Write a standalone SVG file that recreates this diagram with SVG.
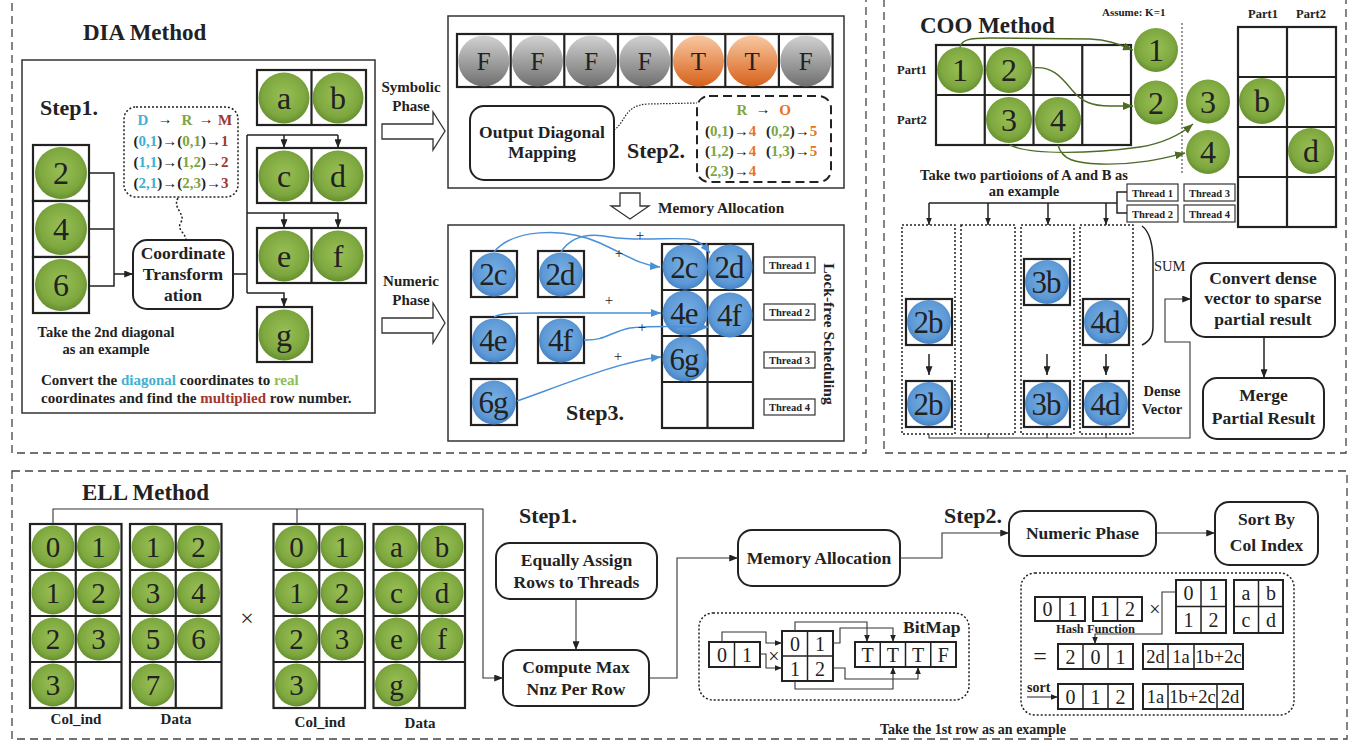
<svg xmlns="http://www.w3.org/2000/svg" width="1367" height="742" viewBox="0 0 1367 742" font-family="'Liberation Serif', 'Times New Roman', Times, serif">
<style>
text,tspan{font-family:'Liberation Serif','Times New Roman',Times,serif}
text{fill:#222}
.b{font-weight:bold}
.c{text-anchor:middle}
.m{dominant-baseline:central}
.panel{fill:none;stroke:#444;stroke-width:1.3;stroke-dasharray:8 5}
.frame{fill:#fff;stroke:#333;stroke-width:1.5}
.cell{fill:#fff;stroke:#222;stroke-width:2.2}
.grid{fill:none;stroke:#222;stroke-width:2.2}
.rb{fill:#fff;stroke:#222;stroke-width:2}
.tb{fill:#fff;stroke:#333;stroke-width:1.2}
.dot{fill:none;stroke:#222;stroke-width:1.5;stroke-dasharray:2 2}
.ln{fill:none;stroke:#222;stroke-width:1.5}
.thin{fill:none;stroke:#333;stroke-width:1.1}
.blue{fill:none;stroke:#4a90d9;stroke-width:1.5}
.olive{fill:none;stroke:#4e6b25;stroke-width:1.4}
.g{fill:url(#gGreen)}
.bl{fill:url(#gBlue)}
.big{font-size:32px}
.mid{font-size:29px}
.lbl{font-size:17.5px;font-weight:bold}
.step{font-size:22px;font-weight:bold}
.title{font-size:23px;font-weight:bold}
.thr{font-size:10.5px;font-weight:bold}
.cy{fill:#3fb0d4}.gr{fill:#7ea540}.rd{fill:#a3362b}.or{fill:#e8731e}
</style>
<defs>
<radialGradient id="gGreen" cx="50%" cy="45%" r="55%">
<stop offset="0" stop-color="#98bf56"/><stop offset="0.75" stop-color="#7ea83f"/><stop offset="1" stop-color="#668f2f"/>
</radialGradient>
<radialGradient id="gBlue" cx="50%" cy="45%" r="55%">
<stop offset="0" stop-color="#78b0e4"/><stop offset="0.75" stop-color="#5d99d6"/><stop offset="1" stop-color="#4683c6"/>
</radialGradient>
<linearGradient id="gGray" x1="0" y1="0" x2="0" y2="1">
<stop offset="0" stop-color="#d2d2d2"/><stop offset="1" stop-color="#6f6f6f"/>
</linearGradient>
<linearGradient id="gOrange" x1="0" y1="0" x2="0" y2="1">
<stop offset="0" stop-color="#f9c9a2"/><stop offset="1" stop-color="#d6611b"/>
</linearGradient>
<marker id="ah" viewBox="0 0 10 8" refX="10" refY="4" markerWidth="9" markerHeight="7" markerUnits="userSpaceOnUse" orient="auto"><path d="M0,0 L10,4 L0,8 z" fill="#222"/></marker>
<marker id="ahs" viewBox="0 0 10 8" refX="10" refY="4" markerWidth="7" markerHeight="6" markerUnits="userSpaceOnUse" orient="auto"><path d="M0,0 L10,4 L0,8 z" fill="#222"/></marker>
<marker id="ahb" viewBox="0 0 10 8" refX="10" refY="4" markerWidth="10" markerHeight="8" markerUnits="userSpaceOnUse" orient="auto"><path d="M0,0 L10,4 L0,8 z" fill="#4a90d9"/></marker>
<marker id="ahg" viewBox="0 0 10 8" refX="10" refY="4" markerWidth="10" markerHeight="8" markerUnits="userSpaceOnUse" orient="auto"><path d="M0,0 L10,4 L0,8 z" fill="#4e6b25"/></marker>
</defs>
<rect width="1367" height="742" fill="#fff"/>

<!-- section frames -->
<g id="panels">
<rect class="panel" x="12" y="-10" width="854" height="463"/>
<rect class="panel" x="884" y="-10" width="462" height="463"/>
<rect class="panel" x="12" y="471" width="1335" height="268"/>
</g>

<!-- ===== DIA ===== -->
<g id="dia">
<text class="title" x="83" y="40">DIA Method</text>
<rect class="frame" x="22" y="60" width="353" height="353"/>
<text class="step" x="40" y="115">Step1.</text>

<g id="dia-diag">
<rect class="cell" x="33" y="145" width="56" height="56"/>
<rect class="cell" x="33" y="201" width="56" height="56"/>
<rect class="cell" x="33" y="257" width="56" height="56"/>
<circle class="g" cx="61" cy="173" r="26"/><text class="c m big" x="61" y="173">2</text>
<circle class="g" cx="61" cy="229" r="26"/><text class="c m big" x="61" y="229">4</text>
<circle class="g" cx="61" cy="285" r="26"/><text class="c m big" x="61" y="285">6</text>
</g>

<g id="dia-map">
<rect class="dot" x="124" y="107" width="114" height="90" rx="12"/>
<g class="b" font-size="15">
<text class="c cy" x="143" y="125">D</text><text class="c" x="165" y="124">→</text>
<text class="c gr" x="187" y="125">R</text><text class="c" x="206" y="124">→</text>
<text class="c rd" x="225" y="125">M</text>
<text class="c" x="181" y="146">(<tspan class="cy">0,1</tspan>)→(<tspan class="gr">0,1</tspan>)→<tspan class="rd">1</tspan></text>
<text class="c" x="181" y="167">(<tspan class="cy">1,1</tspan>)→(<tspan class="gr">1,2</tspan>)→<tspan class="rd">2</tspan></text>
<text class="c" x="181" y="188">(<tspan class="cy">2,1</tspan>)→(<tspan class="gr">2,3</tspan>)→<tspan class="rd">3</tspan></text>
</g>
<path class="dot" d="M178,198 C172,208 186,214 181,222 C176,230 186,233 186,240" stroke-width="1.2"/>
</g>

<g id="dia-transform">
<rect class="rb" x="133" y="240" width="100" height="69" rx="14"/>
<text class="c lbl" x="183" y="259">Coordinate</text>
<text class="c lbl" x="183" y="280">Transform</text>
<text class="c lbl" x="183" y="301">ation</text>
</g>

<g id="dia-rows">
<rect class="cell" x="257" y="70" width="109" height="55"/><line class="grid" x1="311.5" y1="70" x2="311.5" y2="125"/>
<circle class="g" cx="284" cy="98" r="25.5"/><text class="c m big" x="284" y="98">a</text>
<circle class="g" cx="338" cy="98" r="25.5"/><text class="c m big" x="338" y="98">b</text>
<rect class="cell" x="257" y="148" width="109" height="55"/><line class="grid" x1="311.5" y1="148" x2="311.5" y2="203"/>
<circle class="g" cx="284" cy="176" r="25.5"/><text class="c m big" x="284" y="176">c</text>
<circle class="g" cx="338" cy="176" r="25.5"/><text class="c m big" x="338" y="176">d</text>
<rect class="cell" x="257" y="228" width="109" height="55"/><line class="grid" x1="311.5" y1="228" x2="311.5" y2="283"/>
<circle class="g" cx="284" cy="256" r="25.5"/><text class="c m big" x="284" y="256">e</text>
<circle class="g" cx="338" cy="256" r="25.5"/><text class="c m big" x="338" y="256">f</text>
<rect class="cell" x="257" y="307" width="55" height="55"/>
<circle class="g" cx="284" cy="335" r="25.5"/><text class="c m big" x="284" y="335">g</text>
</g>

<g id="dia-notes" class="b">
<text class="c" font-size="14.5" x="106" y="337">Take the 2nd diagonal</text>
<text class="c" font-size="14.5" x="106" y="354">as an example</text>
<text font-size="15" x="41" y="385">Convert the <tspan fill="#41b0d2">diagonal</tspan> coordinates to <tspan fill="#8fbd55">real</tspan></text>
<text font-size="15" x="41" y="403">coordinates and find the <tspan fill="#a3362b">multiplied</tspan> row number.</text>
</g>

<g id="dia-symbolic">
<text class="c b" font-size="15" x="411" y="92">Symbolic</text>
<text class="c b" font-size="15" x="411" y="111">Phase</text>
<polygon points="382,124 433,124 433,112 445,131 433,150 433,139 382,139" fill="#fff" stroke="#333" stroke-width="1.3"/>
</g>

<g id="dia-step2">
<rect class="frame" x="448" y="16" width="396" height="172"/>
<rect class="cell" x="457" y="34" width="375.6" height="53"/>
<g class="grid">
<line x1="510.7" y1="34" x2="510.7" y2="87"/><line x1="564.3" y1="34" x2="564.3" y2="87"/>
<line x1="618" y1="34" x2="618" y2="87"/><line x1="671.6" y1="34" x2="671.6" y2="87"/>
<line x1="725.3" y1="34" x2="725.3" y2="87"/><line x1="778.9" y1="34" x2="778.9" y2="87"/>
</g>
<g font-size="25">
<circle cx="483.8" cy="61" r="25.5" fill="url(#gGray)"/><text class="c m" x="483.8" y="61">F</text>
<circle cx="537.5" cy="61" r="25.5" fill="url(#gGray)"/><text class="c m" x="537.5" y="61">F</text>
<circle cx="591.2" cy="61" r="25.5" fill="url(#gGray)"/><text class="c m" x="591.2" y="61">F</text>
<circle cx="644.8" cy="61" r="25.5" fill="url(#gGray)"/><text class="c m" x="644.8" y="61">F</text>
<circle cx="698.5" cy="61" r="25.5" fill="url(#gOrange)"/><text class="c m" x="698.5" y="61">T</text>
<circle cx="752.2" cy="61" r="25.5" fill="url(#gOrange)"/><text class="c m" x="752.2" y="61">T</text>
<circle cx="805.8" cy="61" r="25.5" fill="url(#gGray)"/><text class="c m" x="805.8" y="61">F</text>
</g>
<rect class="rb" x="470" y="106" width="144" height="74" rx="14"/>
<text class="c lbl" x="542" y="138">Output Diagonal</text>
<text class="c lbl" x="542" y="158">Mapping</text>
<text class="step" x="627" y="158">Step2.</text>
<path d="M614,130 C626,122 624,105 648,104 L697,103" fill="none" stroke="#222" stroke-width="1.2" stroke-dasharray="1.5 1.5"/>
<rect x="697" y="96" width="134" height="86" rx="12" fill="none" stroke="#222" stroke-width="2" stroke-dasharray="9 5"/>
<g class="b" font-size="15">
<text class="c gr" x="742" y="115">R</text><text class="c" x="763" y="114">→</text><text class="c or" x="785" y="115">O</text>
<text x="705" y="136">(<tspan class="gr">0,1</tspan>)→<tspan class="or">4</tspan></text>
<text x="766" y="136">(<tspan class="gr">0,2</tspan>)→<tspan class="or">5</tspan></text>
<text x="705" y="156">(<tspan class="gr">1,2</tspan>)→<tspan class="or">4</tspan></text>
<text x="766" y="156">(<tspan class="gr">1,3</tspan>)→<tspan class="or">5</tspan></text>
<text x="705" y="176">(<tspan class="gr">2,3</tspan>)→<tspan class="or">4</tspan></text>
</g>
</g>

<g id="dia-memory">
<polygon points="620,193 640,193 640,206 649,206 630,219 611,206 620,206" fill="#fff" stroke="#333" stroke-width="1.3"/>
<text class="b" font-size="15.3" x="658" y="213">Memory Allocation</text>
</g>

<g id="dia-numeric">
<text class="c b" font-size="15" x="411" y="286">Numeric</text>
<text class="c b" font-size="15" x="411" y="305">Phase</text>
<polygon points="382,318 433,318 433,303 445,323 433,343 433,333 382,333" fill="#fff" stroke="#333" stroke-width="1.3"/>
</g>

<g id="dia-step3">
<rect class="frame" x="448" y="225" width="396" height="216"/>
<g font-size="31" letter-spacing="-1">
<rect class="cell" x="471" y="251" width="46" height="46"/><circle class="bl" cx="494" cy="274.5" r="22"/><text class="c m" x="493" y="274.5">2c</text>
<rect class="cell" x="538" y="251" width="46" height="46"/><circle class="bl" cx="561" cy="274.5" r="22"/><text class="c m" x="560" y="274.5">2d</text>
<rect class="cell" x="471" y="317" width="46" height="46"/><circle class="bl" cx="494" cy="340.5" r="22"/><text class="c m" x="493" y="340.5">4e</text>
<rect class="cell" x="538" y="317" width="46" height="46"/><circle class="bl" cx="561" cy="340.5" r="22"/><text class="c m" x="560" y="340.5">4f</text>
<rect class="cell" x="471" y="379" width="46" height="46"/><circle class="bl" cx="494" cy="402.5" r="22"/><text class="c m" x="493" y="402.5">6g</text>
</g>
<rect class="cell" x="662" y="244" width="91" height="184"/>
<g class="grid">
<line x1="707.5" y1="244" x2="707.5" y2="428"/>
<line x1="662" y1="290" x2="753" y2="290"/><line x1="662" y1="336" x2="753" y2="336"/><line x1="662" y1="382" x2="753" y2="382"/>
</g>
<g font-size="31" letter-spacing="-1">
<circle class="bl" cx="685" cy="267" r="22.5"/><text class="c m" x="684" y="267">2c</text>
<circle class="bl" cx="730" cy="267" r="22.5"/><text class="c m" x="729" y="267">2d</text>
<circle class="bl" cx="685" cy="313" r="22.5"/><text class="c m" x="684" y="313">4e</text>
<circle class="bl" cx="730" cy="315" r="22.5"/><text class="c m" x="729" y="315">4f</text>
<circle class="bl" cx="685" cy="359" r="22.5"/><text class="c m" x="684" y="359">6g</text>
</g>
<g class="thr">
<rect class="tb" x="764" y="257" width="51" height="16"/><text class="c" x="789.5" y="269">Thread 1</text>
<rect class="tb" x="764" y="304" width="51" height="16"/><text class="c" x="789.5" y="316">Thread 2</text>
<rect class="tb" x="764" y="352" width="51" height="16"/><text class="c" x="789.5" y="364">Thread 3</text>
<rect class="tb" x="764" y="399" width="51" height="16"/><text class="c" x="789.5" y="411">Thread 4</text>
</g>
<text class="c m b" font-size="15.5" transform="translate(829,334) rotate(90)">Lock-free Scheduling</text>
<text class="step" x="566" y="420">Step3.</text>
</g>
</g>

<!-- ===== COO ===== -->
<g id="coo">
<text class="title" x="920" y="33">COO Method</text>
<text class="b" font-size="11" x="1102" y="16">Assume: K=1</text>
<line x1="1182" y1="23" x2="1182" y2="175" stroke="#333" stroke-width="1" stroke-dasharray="2 2"/>

<g id="coo-a">
<text class="b" font-size="12.5" x="897" y="74">Part1</text>
<text class="b" font-size="12.5" x="897" y="124">Part2</text>
<rect class="cell" x="936" y="45" width="195" height="100"/>
<g class="grid">
<line x1="984.75" y1="45" x2="984.75" y2="145"/><line x1="1033.5" y1="45" x2="1033.5" y2="145"/><line x1="1082.25" y1="45" x2="1082.25" y2="145"/>
<line x1="936" y1="95" x2="1131" y2="95"/>
</g>
<circle class="g" cx="960" cy="70" r="23"/><text class="c m big" x="960" y="70">1</text>
<circle class="g" cx="1009" cy="70" r="23"/><text class="c m big" x="1009" y="70">2</text>
<circle class="g" cx="1009" cy="120" r="23"/><text class="c m big" x="1009" y="120">3</text>
<circle class="g" cx="1058" cy="120" r="23"/><text class="c m big" x="1058" y="120">4</text>
</g>

<g id="coo-parts">
<circle class="g" cx="1156" cy="50" r="22"/><text class="c m big" x="1156" y="50">1</text>
<circle class="g" cx="1156" cy="102.5" r="22"/><text class="c m big" x="1156" y="102.5">2</text>
<circle class="g" cx="1208" cy="101.5" r="22"/><text class="c m big" x="1208" y="101.5">3</text>
<circle class="g" cx="1208" cy="152" r="22"/><text class="c m big" x="1208" y="152">4</text>
</g>

<g id="coo-b">
<text class="c b" font-size="12.5" x="1263" y="18">Part1</text>
<text class="c b" font-size="12.5" x="1311" y="18">Part2</text>
<rect class="cell" x="1238" y="27" width="98" height="200"/>
<g class="grid">
<line x1="1287" y1="27" x2="1287" y2="227"/>
<line x1="1238" y1="77" x2="1336" y2="77"/><line x1="1238" y1="127" x2="1336" y2="127"/><line x1="1238" y1="177" x2="1336" y2="177"/>
</g>
<circle class="g" cx="1262" cy="101" r="23"/><text class="c m big" x="1262" y="101">b</text>
<circle class="g" cx="1311" cy="151" r="23"/><text class="c m big" x="1311" y="151">d</text>
</g>

<g class="b" font-size="14.5">
<text class="c" x="1024" y="180">Take two partioions of A and B as</text>
<text class="c" x="1024" y="196">an example</text>
</g>

<g id="coo-threads" class="thr">
<rect class="tb" x="1127" y="184" width="51" height="17"/><text class="c" x="1152.5" y="196.5">Thread 1</text>
<rect class="tb" x="1184" y="184" width="51" height="17"/><text class="c" x="1209.5" y="196.5">Thread 3</text>
<rect class="tb" x="1127" y="205" width="51" height="17"/><text class="c" x="1152.5" y="217.5">Thread 2</text>
<rect class="tb" x="1184" y="205" width="51" height="17"/><text class="c" x="1209.5" y="217.5">Thread 4</text>
</g>

<g id="coo-columns">
<rect class="dot" x="902" y="225" width="53" height="209" stroke-width="1.1"/>
<rect class="dot" x="961" y="225" width="54" height="209" stroke-width="1.1"/>
<rect class="dot" x="1021" y="225" width="53" height="209" stroke-width="1.1"/>
<rect class="dot" x="1080" y="225" width="53" height="209" stroke-width="1.1"/>
<g font-size="31" letter-spacing="-1">
<rect class="cell" x="906" y="299" width="46" height="46"/><circle class="bl" cx="929" cy="322" r="22"/><text class="c m" x="928" y="322">2b</text>
<rect class="cell" x="906" y="381" width="46" height="46"/><circle class="bl" cx="929" cy="404" r="22"/><text class="c m" x="928" y="404">2b</text>
<rect class="cell" x="1024" y="259" width="46" height="46"/><circle class="bl" cx="1047" cy="282" r="22"/><text class="c m" x="1046" y="282">3b</text>
<rect class="cell" x="1024" y="381" width="46" height="46"/><circle class="bl" cx="1047" cy="404" r="22"/><text class="c m" x="1046" y="404">3b</text>
<rect class="cell" x="1083" y="299" width="46" height="46"/><circle class="bl" cx="1106" cy="322" r="22"/><text class="c m" x="1105" y="322">4d</text>
<rect class="cell" x="1083" y="381" width="46" height="46"/><circle class="bl" cx="1106" cy="404" r="22"/><text class="c m" x="1105" y="404">4d</text>
</g>
<path class="ln" d="M1142,226 C1150,232 1153,244 1153,262 L1153,326 C1153,336 1150,341 1142,345"/>
<text font-size="14.5" x="1154" y="271">SUM</text>
<text class="c b" font-size="14.5" x="1162" y="396">Dense</text>
<text class="c b" font-size="14.5" x="1162" y="414">Vector</text>
</g>

<g id="coo-convert">
<rect class="rb" x="1191" y="263" width="144" height="74" rx="14"/>
<text class="c lbl" x="1263" y="284">Convert dense</text>
<text class="c lbl" x="1263" y="304">vector to sparse</text>
<text class="c lbl" x="1263" y="325">partial result</text>
</g>
<g id="coo-merge">
<rect class="rb" x="1203" y="378" width="121" height="61" rx="14"/>
<text class="c lbl" x="1263.5" y="401">Merge</text>
<text class="c lbl" x="1263.5" y="424">Partial Result</text>
</g>
</g>

<!-- ===== ELL ===== -->
<g id="ell">
<text class="title" x="82" y="500">ELL Method</text>

<g id="ell-a-col">
<rect class="cell" x="30" y="524" width="91.5" height="184"/>
<g class="grid"><line x1="75.75" y1="524" x2="75.75" y2="708"/><line x1="30" y1="570" x2="121.5" y2="570"/><line x1="30" y1="616" x2="121.5" y2="616"/><line x1="30" y1="662" x2="121.5" y2="662"/></g>
<g class="mid">
<circle class="g" cx="53" cy="547" r="21.5"/><text class="c m" x="53" y="547">0</text>
<circle class="g" cx="98.5" cy="547" r="21.5"/><text class="c m" x="98.5" y="547">1</text>
<circle class="g" cx="53" cy="593" r="21.5"/><text class="c m" x="53" y="593">1</text>
<circle class="g" cx="98.5" cy="593" r="21.5"/><text class="c m" x="98.5" y="593">2</text>
<circle class="g" cx="53" cy="639" r="21.5"/><text class="c m" x="53" y="639">2</text>
<circle class="g" cx="98.5" cy="639" r="21.5"/><text class="c m" x="98.5" y="639">3</text>
<circle class="g" cx="53" cy="685" r="21.5"/><text class="c m" x="53" y="685">3</text>
</g>
<text class="c b" font-size="15" x="76" y="724">Col_ind</text>
</g>

<g id="ell-a-data">
<rect class="cell" x="130" y="524" width="91.5" height="184"/>
<g class="grid"><line x1="175.75" y1="524" x2="175.75" y2="708"/><line x1="130" y1="570" x2="221.5" y2="570"/><line x1="130" y1="616" x2="221.5" y2="616"/><line x1="130" y1="662" x2="221.5" y2="662"/></g>
<g class="mid">
<circle class="g" cx="153" cy="547" r="21.5"/><text class="c m" x="153" y="547">1</text>
<circle class="g" cx="198.5" cy="547" r="21.5"/><text class="c m" x="198.5" y="547">2</text>
<circle class="g" cx="153" cy="593" r="21.5"/><text class="c m" x="153" y="593">3</text>
<circle class="g" cx="198.5" cy="593" r="21.5"/><text class="c m" x="198.5" y="593">4</text>
<circle class="g" cx="153" cy="639" r="21.5"/><text class="c m" x="153" y="639">5</text>
<circle class="g" cx="198.5" cy="639" r="21.5"/><text class="c m" x="198.5" y="639">6</text>
<circle class="g" cx="153" cy="685" r="21.5"/><text class="c m" x="153" y="685">7</text>
</g>
<text class="c b" font-size="15" x="176" y="724">Data</text>
</g>

<text class="c m" font-size="24" x="247" y="618">×</text>

<g id="ell-b-col">
<rect class="cell" x="273.5" y="524" width="91.5" height="184"/>
<g class="grid"><line x1="319.25" y1="524" x2="319.25" y2="708"/><line x1="273.5" y1="570" x2="365" y2="570"/><line x1="273.5" y1="616" x2="365" y2="616"/><line x1="273.5" y1="662" x2="365" y2="662"/></g>
<g class="mid">
<circle class="g" cx="296.5" cy="547" r="21.5"/><text class="c m" x="296.5" y="547">0</text>
<circle class="g" cx="342" cy="547" r="21.5"/><text class="c m" x="342" y="547">1</text>
<circle class="g" cx="296.5" cy="593" r="21.5"/><text class="c m" x="296.5" y="593">1</text>
<circle class="g" cx="342" cy="593" r="21.5"/><text class="c m" x="342" y="593">2</text>
<circle class="g" cx="296.5" cy="639" r="21.5"/><text class="c m" x="296.5" y="639">2</text>
<circle class="g" cx="342" cy="639" r="21.5"/><text class="c m" x="342" y="639">3</text>
<circle class="g" cx="296.5" cy="685" r="21.5"/><text class="c m" x="296.5" y="685">3</text>
</g>
<text class="c b" font-size="15" x="320" y="727">Col_ind</text>
</g>

<g id="ell-b-data">
<rect class="cell" x="373.5" y="524" width="91.5" height="184"/>
<g class="grid"><line x1="419.25" y1="524" x2="419.25" y2="708"/><line x1="373.5" y1="570" x2="465" y2="570"/><line x1="373.5" y1="616" x2="465" y2="616"/><line x1="373.5" y1="662" x2="465" y2="662"/></g>
<g class="mid">
<circle class="g" cx="396.5" cy="547" r="21.5"/><text class="c m" x="396.5" y="547">a</text>
<circle class="g" cx="442" cy="547" r="21.5"/><text class="c m" x="442" y="547">b</text>
<circle class="g" cx="396.5" cy="593" r="21.5"/><text class="c m" x="396.5" y="593">c</text>
<circle class="g" cx="442" cy="593" r="21.5"/><text class="c m" x="442" y="593">d</text>
<circle class="g" cx="396.5" cy="639" r="21.5"/><text class="c m" x="396.5" y="639">e</text>
<circle class="g" cx="442" cy="639" r="21.5"/><text class="c m" x="442" y="639">f</text>
<circle class="g" cx="396.5" cy="685" r="21.5"/><text class="c m" x="396.5" y="685">g</text>
</g>
<text class="c b" font-size="15" x="420" y="728">Data</text>
</g>

<text class="step" x="519" y="523">Step1.</text>
<g id="ell-assign">
<rect class="rb" x="496" y="543" width="161" height="56" rx="14"/>
<text class="c lbl" x="576.5" y="566">Equally Assign</text>
<text class="c lbl" x="576.5" y="588">Rows to Threads</text>
</g>
<g id="ell-compute">
<rect class="rb" x="503" y="650" width="146" height="56" rx="14"/>
<text class="c lbl" x="576" y="673">Compute Max</text>
<text class="c lbl" x="576" y="695">Nnz Per Row</text>
</g>
<g id="ell-memory">
<rect class="rb" x="738" y="530" width="162" height="56" rx="14"/>
<text class="c lbl" x="819" y="564">Memory Allocation</text>
</g>
<text class="step" x="944" y="523">Step2.</text>
<g id="ell-numeric">
<rect class="rb" x="1009" y="511" width="147" height="45" rx="14"/>
<text class="c lbl" x="1082.5" y="539">Numeric Phase</text>
</g>
<g id="ell-sort">
<rect class="rb" x="1215" y="502" width="103" height="63" rx="14"/>
<text class="c lbl" x="1266.5" y="525">Sort By</text>
<text class="c lbl" x="1266.5" y="551">Col Index</text>
</g>

<g id="ell-bitmap">
<rect class="dot" x="699" y="613" width="270" height="87" rx="14"/>
<text class="b" font-size="17.5" x="903" y="633">BitMap</text>
<g font-size="20">
<rect class="rb" x="709" y="642" width="51" height="25"/><line class="ln" x1="734.5" y1="642" x2="734.5" y2="667" stroke-width="2"/>
<text class="c m" x="722" y="655">0</text><text class="c m" x="747" y="655">1</text>
<text class="c m" x="774" y="656">×</text>
<rect class="rb" x="782" y="631" width="51" height="50"/>
<line class="ln" x1="807.5" y1="631" x2="807.5" y2="681" stroke-width="2"/><line class="ln" x1="782" y1="656" x2="833" y2="656" stroke-width="2"/>
<text class="c m" x="795" y="644">0</text><text class="c m" x="820" y="644">1</text>
<text class="c m" x="795" y="669">1</text><text class="c m" x="820" y="669">2</text>
<rect class="rb" x="855" y="642" width="101" height="25"/>
<g class="ln" stroke-width="2"><line x1="880.25" y1="642" x2="880.25" y2="667"/><line x1="905.5" y1="642" x2="905.5" y2="667"/><line x1="930.75" y1="642" x2="930.75" y2="667"/></g>
<text class="c m" x="867.6" y="655">T</text><text class="c m" x="892.9" y="655">T</text><text class="c m" x="918.1" y="655">T</text><text class="c m" x="943.4" y="655">F</text>
</g>
</g>

<g id="ell-hash">
<rect class="dot" x="1021" y="573" width="273" height="142" rx="14"/>
<g font-size="20">
<rect class="rb" x="1035" y="597" width="50" height="24"/><line class="ln" x1="1060" y1="597" x2="1060" y2="621" stroke-width="2"/>
<text class="c m" x="1047.5" y="609">0</text><text class="c m" x="1072.5" y="609">1</text>
<rect class="rb" x="1093" y="597" width="49" height="24"/><line class="ln" x1="1117.5" y1="597" x2="1117.5" y2="621" stroke-width="2"/>
<text class="c m" x="1105" y="609">1</text><text class="c m" x="1130" y="609">2</text>
<text class="c m" x="1155" y="609">×</text>
<rect class="rb" x="1176" y="580" width="50" height="53"/>
<line class="ln" x1="1201" y1="580" x2="1201" y2="633" stroke-width="2"/><line class="ln" x1="1176" y1="606.5" x2="1226" y2="606.5" stroke-width="2"/>
<text class="c m" x="1188.5" y="593">0</text><text class="c m" x="1213.5" y="593">1</text>
<text class="c m" x="1188.5" y="620">1</text><text class="c m" x="1213.5" y="620">2</text>
<rect class="rb" x="1234" y="580" width="49" height="53"/>
<line class="ln" x1="1258.5" y1="580" x2="1258.5" y2="633" stroke-width="2"/><line class="ln" x1="1234" y1="606.5" x2="1283" y2="606.5" stroke-width="2"/>
<text class="c m" x="1246" y="593">a</text><text class="c m" x="1271" y="593">b</text>
<text class="c m" x="1246" y="620">c</text><text class="c m" x="1271" y="620">d</text>
<text class="c m" font-size="24" x="1040" y="656">=</text>
<rect class="rb" x="1058" y="644" width="75" height="25"/>
<g class="ln" stroke-width="2"><line x1="1083" y1="644" x2="1083" y2="669"/><line x1="1108" y1="644" x2="1108" y2="669"/></g>
<text class="c m" x="1070.5" y="657">2</text><text class="c m" x="1095.5" y="657">0</text><text class="c m" x="1120.5" y="657">1</text>
<rect class="rb" x="1143" y="644" width="100" height="25"/>
<g class="ln" stroke-width="2"><line x1="1168" y1="644" x2="1168" y2="669"/><line x1="1194" y1="644" x2="1194" y2="669"/></g>
<g font-size="18.5"><text class="c m" x="1155.5" y="657">2d</text><text class="c m" x="1181" y="657">1a</text><text class="c m" x="1218.5" y="657">1b+2c</text></g>
<rect class="rb" x="1058" y="684" width="75" height="25"/>
<g class="ln" stroke-width="2"><line x1="1083" y1="684" x2="1083" y2="709"/><line x1="1108" y1="684" x2="1108" y2="709"/></g>
<text class="c m" x="1070.5" y="697">0</text><text class="c m" x="1095.5" y="697">1</text><text class="c m" x="1120.5" y="697">2</text>
<rect class="rb" x="1143" y="684" width="100" height="25"/>
<g class="ln" stroke-width="2"><line x1="1168" y1="684" x2="1168" y2="709"/><line x1="1217" y1="684" x2="1217" y2="709"/></g>
<g font-size="18.5"><text class="c m" x="1155.5" y="697">1a</text><text class="c m" x="1192.5" y="697">1b+2c</text><text class="c m" x="1230" y="697">2d</text></g>
</g>
<text class="b" font-size="12.5" x="1056" y="633">Hash Function</text>
<text class="b" font-size="14" x="1027" y="692">sort</text>
</g>
<text class="b" font-size="14" x="880" y="734">Take the 1st row as an example</text>
</g>

<!-- ===== connectors ===== -->
<g id="connectors">
<!-- DIA step 1 -->
<path class="ln" d="M89,173 H114 V286 H89 M89,229 H114"/>
<path class="ln" d="M114,274 H133" marker-end="url(#ah)"/>
<path class="ln" d="M233,274 H247 M247,135 V293"/>
<path class="ln" d="M247,135 H338"/>
<path class="ln" d="M284,135 V148" marker-end="url(#ah)"/>
<path class="ln" d="M338,135 V148" marker-end="url(#ah)"/>
<path class="ln" d="M247,213 H338"/>
<path class="ln" d="M284,213 V228" marker-end="url(#ah)"/>
<path class="ln" d="M338,213 V228" marker-end="url(#ah)"/>
<path class="ln" d="M247,293 H284 V307" marker-end="url(#ah)"/>

<!-- DIA step 3 accumulation -->
<path class="blue" d="M494,252 C512,230 562,226 600,243 C628,256 640,265 660,267" marker-end="url(#ahb)"/>
<path class="blue" d="M561,252 C570,238 585,232 610,237 C640,242 680,236 694,240 C702,243 706,248 710,253" marker-end="url(#ahb)"/>
<path class="blue" d="M494,317 C500,313 515,313 540,313 L661,313" marker-end="url(#ahb)"/>
<path class="blue" d="M584,340 C605,341 610,332 630,328 C650,325 690,327 709,327" marker-end="url(#ahb)"/>
<path class="blue" d="M517,401 C560,386 620,361 661,357" marker-end="url(#ahb)"/>
<g font-size="15" class="c">
<text x="619" y="258">+</text><text x="640" y="240">+</text><text x="609" y="305">+</text><text x="642" y="332">+</text><text x="618" y="361">+</text>
</g>

<!-- COO -->
<path class="olive" d="M960,47 C962,40 968,38 990,38 L1090,39 C1110,40 1120,45 1133,50" marker-end="url(#ahg)"/>
<path class="olive" d="M1032,68 C1052,65 1062,78 1072,90 C1082,102 1092,106 1110,106 L1133,106" marker-end="url(#ahg)"/>
<path class="olive" d="M1010,145 C1030,155 1090,154 1140,147 C1165,143 1180,135 1193,124" marker-end="url(#ahg)"/>
<path class="olive" d="M1058,145 C1062,160 1075,163 1100,164 C1140,165 1165,158 1185,153" marker-end="url(#ahg)"/>
<path class="ln" d="M1127,192 H1117 V213 H1127 M929,203 H1117" stroke-width="1.3"/>
<path class="ln" d="M929,203 V225" marker-end="url(#ahs)" stroke-width="1.3"/>
<path class="ln" d="M988,203 V225" marker-end="url(#ahs)" stroke-width="1.3"/>
<path class="ln" d="M1048,203 V225" marker-end="url(#ahs)" stroke-width="1.3"/>
<path class="ln" d="M1106,203 V225" marker-end="url(#ahs)" stroke-width="1.3"/>
<path class="ln" d="M929,354 V375" marker-end="url(#ah)"/>
<path class="ln" d="M1047,354 V375" marker-end="url(#ah)"/>
<path class="ln" d="M1106,354 V375" marker-end="url(#ah)"/>
<path class="thin" d="M929,434 V438 H1190 V342 H1165 V299 H1191" marker-end="url(#ah)" stroke-width="1.2"/>
<path class="thin" d="M988,434 V438 M1047,434 V438 M1106,434 V438" stroke-width="1.2"/>
<path class="ln" d="M1264,337 V378" marker-end="url(#ah)"/>

<!-- ELL flow -->
<path class="thin" d="M53,524 V509 H483 V678 H503" marker-end="url(#ah)" stroke-width="1.3"/>
<path class="thin" d="M297,524 V509" stroke-width="1.3"/>
<path class="thin" d="M576,599 V650" marker-end="url(#ah)" stroke-width="1.3"/>
<path class="thin" d="M649,678 H677 V558 H738" marker-end="url(#ah)" stroke-width="1.3"/>
<path class="thin" d="M900,558 H942 V533 H1009" marker-end="url(#ah)" stroke-width="1.3"/>
<path class="thin" d="M1156,533 H1215" marker-end="url(#ah)" stroke-width="1.3"/>

<!-- BitMap wiring -->
<path class="thin" d="M722,642 V632 H766 V643 H782" marker-end="url(#ahs)"/>
<path class="thin" d="M760,654 H766 V668 H782" marker-end="url(#ahs)"/>
<path class="thin" d="M795,631 V622 H867 V642" marker-end="url(#ahs)"/>
<path class="thin" d="M833,643 H840 V628 H893 V642" marker-end="url(#ahs)"/>
<path class="thin" d="M833,668 H845 V679 H918 V667" marker-end="url(#ahs)"/>
<path class="thin" d="M795,681 V689 H893 V667" marker-end="url(#ahs)"/>

<!-- hash wiring -->
<path class="thin" d="M1176,592 H1162 V634 H1095 V644" marker-end="url(#ahs)"/>
<path class="thin" d="M1027,697 H1058" marker-end="url(#ahs)"/>
</g>
</svg>
